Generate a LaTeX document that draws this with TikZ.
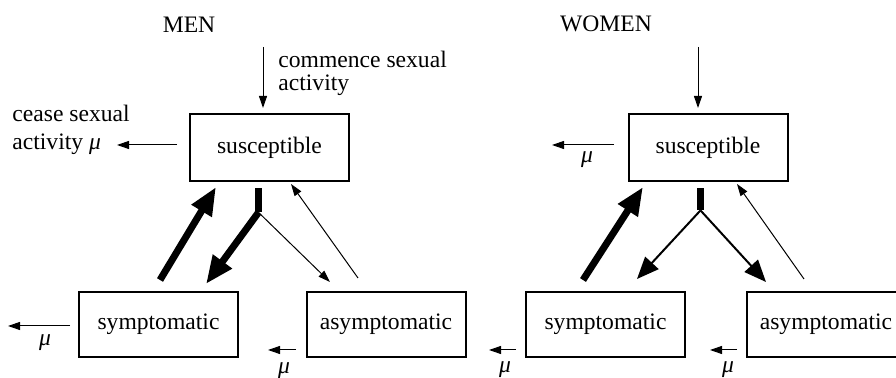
\documentclass[tikz,border=0pt]{standalone}
\usepackage{fontspec}
\setmainfont{Liberation Serif}
\usetikzlibrary{arrows.meta}
\begin{document}
\begin{tikzpicture}[
      x=0.5pt,
      y=-0.5pt,
      font=\fontsize{11.8}{11.5}\selectfont,
      compart/.style={
        draw,
        line width=1pt,
        minimum width=79.5pt,
        minimum height=32.5pt,
        inner sep=0pt
      },
      stub/.style={
        fill=black,
        inner sep=0pt,
        minimum width=3.5pt,
        minimum height=12pt
      },
      thinarr/.style={line width=0.5pt,-{Triangle[length=6pt,width=4pt]}},
      midarr/.style={line width=1pt,-{Triangle[length=11pt,width=9pt]}},
      thickarr/.style={line width=3.5pt,-{Triangle[length=14pt,width=11pt]}}
    ]
      \useasboundingbox (0,0) rectangle (896,378);

      \node (mtitle) at (189,25) {MEN};
      \node (mcomm) at (278,73) [anchor=west,align=left,inner sep=0pt]{commence sexual\\activity};
      \node (mcease) at (12,130) [anchor=west,align=left,inner sep=0pt]{cease sexual\\[2.5pt]activity {\itshape μ}};
      \node (msus) at (269.5,147.5) [compart,minimum height=33.5pt]{susceptible};
      \node (msym) at (158.5,324.5) [compart]{symptomatic};
      \node (masym) at (386,324.5) [compart]{asymptomatic};
      \node (mbar) at (258.5,200) [stub]{};
      \node (mmusym) at (45,343) {\itshape μ};
      \node (mmuasym) at (284,371) {\itshape μ};

      \coordinate (minA) at (263,47);
      \coordinate (minB) at (263,108);
      \coordinate (moutA) at (177,145);
      \coordinate (moutB) at (117,145);
      \coordinate (mupA) at (160,280);
      \coordinate (mupB) at (216,187);
      \coordinate (mdownB) at (206,284);
      \coordinate (masyB) at (330,282);
      \coordinate (mbackA) at (358,278);
      \coordinate (mbackB) at (291,184);
      \coordinate (msymA) at (70,326);
      \coordinate (msymB) at (8,326);
      \coordinate (masymA) at (296,350);
      \coordinate (masymB) at (268,350);

      \draw[thinarr] (minA) -- (minB);
      \draw[thinarr] (moutA) -- (moutB);
      \draw[thickarr] (mupA) -- (mupB);
      \draw[thickarr] (mbar.south) -- (mdownB);
      \draw[thinarr] (mbar.south) -- (masyB);
      \draw[thinarr] (mbackA) -- (mbackB);
      \draw[thinarr] (msymA) -- (msymB);
      \draw[thinarr] (masymA) -- (masymB);

      \node (wtitle) at (606,24) {WOMEN};
      \node (wsus) at (708,147.5) [compart,minimum height=33.5pt]{susceptible};
      \node (wsym) at (605.5,324.5) [compart]{symptomatic};
      \node (wasym) at (826,324.5) [compart]{asymptomatic};
      \node (wbar) at (700.5,199) [stub,minimum height=11pt]{};
      \node (wmusus) at (587,160) {\itshape μ};
      \node (wmusym) at (505,370) {\itshape μ};
      \node (wmuasym) at (728,370) {\itshape μ};

      \coordinate (winA) at (698,47);
      \coordinate (winB) at (698,108);
      \coordinate (woutA) at (614,145);
      \coordinate (woutB) at (552,145);
      \coordinate (wupA) at (583,280);
      \coordinate (wupB) at (643,187);
      \coordinate (wsymT) at (637,279);
      \coordinate (wasyT) at (766,282);
      \coordinate (wbackA) at (804,279);
      \coordinate (wbackB) at (737,184);
      \coordinate (wsymA) at (516,350);
      \coordinate (wsymB) at (489,350);
      \coordinate (wasymA) at (737,350);
      \coordinate (wasymB) at (710,350);

      \draw[thinarr] (winA) -- (winB);
      \draw[thinarr] (woutA) -- (woutB);
      \draw[thickarr] (wupA) -- (wupB);
      \draw[midarr] (wbar.south) -- (wsymT);
      \draw[midarr] (wbar.south) -- (wasyT);
      \draw[thinarr] (wbackA) -- (wbackB);
      \draw[thinarr] (wsymA) -- (wsymB);
      \draw[thinarr] (wasymA) -- (wasymB);

    \end{tikzpicture}
\end{document}
